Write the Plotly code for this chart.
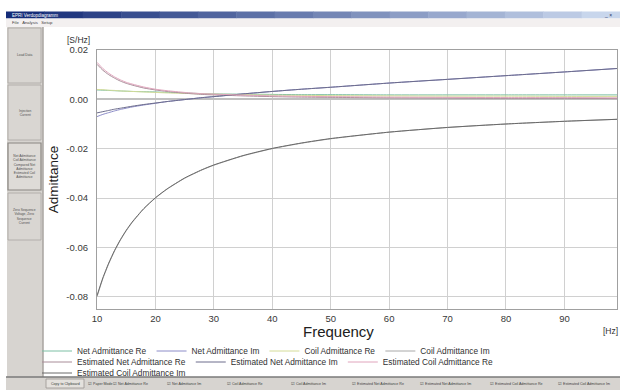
import plotly.graph_objects as go

# ---------------- data ----------------
freq = [10, 11, 12, 13, 14, 15, 16, 18, 20, 22, 25, 28, 30, 35, 40, 45, 50, 60, 70, 80, 90, 99]

net_re = [0.0038, 0.0037, 0.0036, 0.0035, 0.0034, 0.0033, 0.0032, 0.0031, 0.0030, 0.0028, 0.0026, 0.0023,
          0.0022, 0.0021, 0.0020, 0.0019, 0.0019, 0.0018, 0.0018, 0.0018, 0.0018, 0.0018]
net_im = [-0.0070, -0.0061, -0.0054, -0.0047, -0.0041, -0.0036, -0.0031, -0.0023, -0.0016, -0.0009, -0.0001, 0.0007,
          0.0011, 0.0022, 0.0032, 0.0041, 0.0049, 0.0066, 0.0081, 0.0096, 0.0111, 0.0125]
coil_re = [0.0040, 0.0039, 0.0037, 0.0036, 0.0034, 0.0033, 0.0032, 0.0030, 0.0028, 0.0026, 0.0024, 0.0022,
           0.0021, 0.0019, 0.0017, 0.0016, 0.0015, 0.0014, 0.0013, 0.0013, 0.0012, 0.0012]
coil_im = [-0.0800, -0.0727, -0.0667, -0.0615, -0.0571, -0.0533, -0.0500, -0.0444, -0.0400, -0.0364, -0.0320, -0.0286,
           -0.0267, -0.0229, -0.0200, -0.0178, -0.0160, -0.0133, -0.0114, -0.0100, -0.0089, -0.0081]
est_net_re = [0.0142, 0.0118, 0.0100, 0.0086, 0.0074, 0.0065, 0.0058, 0.0046, 0.0038, 0.0032, 0.0025, 0.0020,
              0.0018, 0.0014, 0.0011, 0.0009, 0.0008, 0.0006, 0.0005, 0.0004, 0.0004, 0.0003]
est_net_im = [-0.0055, -0.0050, -0.0045, -0.0040, -0.0036, -0.0032, -0.0028, -0.0021, -0.0015, -0.0009, -0.0001, 0.0007,
              0.0011, 0.0022, 0.0032, 0.0041, 0.0049, 0.0066, 0.0081, 0.0096, 0.0111, 0.0125]
est_coil_re = [0.0150, 0.0125, 0.0106, 0.0091, 0.0079, 0.0069, 0.0062, 0.0050, 0.0041, 0.0035, 0.0028, 0.0023,
               0.0021, 0.0017, 0.0014, 0.0012, 0.0011, 0.0009, 0.0008, 0.0007, 0.0007, 0.0006]
est_coil_im = [-0.0796, -0.0724, -0.0664, -0.0613, -0.0569, -0.0531, -0.0498, -0.0443, -0.0399, -0.0363, -0.0319, -0.0285,
               -0.0266, -0.0228, -0.0199, -0.0177, -0.0159, -0.0133, -0.0114, -0.0100, -0.0089, -0.0081]

series_names = ["Net Admittance Re", "Net Admittance Im", "Coil Admittance Re", "Coil Admittance Im",
                "Estimated Net Admittance Re", "Estimated Net Admittance Im",
                "Estimated Coil Admittance Re", "Estimated Coil Admittance Im"]
series_values = [net_re, net_im, coil_re, coil_im, est_net_re, est_net_im, est_coil_re, est_coil_im]
series_colors = ["#7cbfa4", "#8c8cc8", "#d4dc98", "#a8a8a8",
                 "#a88c98", "#6c6c8c", "#e0a4bc", "#6a6a6a"]
series_legend = ["legend", "legend", "legend", "legend", "legend2", "legend2", "legend2", "legend3"]

x_tickvals = [10, 20, 30, 40, 50, 60, 70, 80, 90]
x_ticktext = ["10", "20", "30", "40", "50", "60", "70", "80", "90"]
y_tickvals = [0.02, 0.0, -0.02, -0.04, -0.06, -0.08]
y_ticktext = ["0.02", "0.00", "-0.02", "-0.04", "-0.06", "-0.08"]

buttons = ["Load Data", "Injection<br>Current",
           "Net Admittance<br>Coil Admittance<br>Compared Net<br>Admittance<br>Estimated Coil<br>Admittance",
           "Zero Sequence<br>Voltage, Zero<br>Sequence<br>Current"]

# ---------------- figure ----------------
W, H = 620, 390
L, R, T, B = 97, 3, 50, 81
PW, PH = W - L - R, H - T - B


def X(px):
    return (px - L) / PW


def Y(py):
    return (H - B - py) / PH


FONT = "Liberation Sans, Arial, sans-serif"

fig = go.Figure()
for name, vals, col, leg in zip(series_names, series_values, series_colors, series_legend):
    fig.add_trace(go.Scatter(x=freq, y=vals, name=name, mode="lines",
                             line=dict(color=col, width=1, shape="spline", smoothing=0.6),
                             legend=leg))

shapes = []


def rect(x0, y0, x1, y1, fill, line=None, lw=0):
    shapes.append(dict(type="rect", xref="paper", yref="paper",
                       x0=X(x0), x1=X(x1), y0=Y(y1), y1=Y(y0),
                       fillcolor=fill, line=dict(color=line or fill, width=lw), layer="below"))


def hline(x0, x1, y, color, w=1):
    shapes.append(dict(type="line", xref="paper", yref="paper", x0=X(x0), x1=X(x1), y0=Y(y), y1=Y(y),
                       line=dict(color=color, width=w)))


def vline(x, y0, y1, color, w=1):
    shapes.append(dict(type="line", xref="paper", yref="paper", x0=X(x), x1=X(x), y0=Y(y0), y1=Y(y1),
                       line=dict(color=color, width=w)))


# title bar gradient
n = 16
c0, c1 = (20, 44, 120), (200, 214, 236)
for i in range(n):
    t = i / (n - 1)
    c = tuple(int(c0[k] + (c1[k] - c0[k]) * t) for k in range(3))
    xa = 6 + (620 - 6) * i / n
    xb = 6 + (620 - 6) * (i + 1) / n + 0.5
    rect(xa, 11.5, xb, 18.5, "rgb(%d,%d,%d)" % c)
# menu bar
rect(6, 18.5, 620, 27, "#f3f0f0")
# left panel
rect(7, 27, 43, 377, "#d7d4d0")
vline(43, 27, 377, "#a8a4a0", 1.5)
# buttons
btn_rows = [(28, 83), (85, 140), (143, 190), (193, 240)]
for i, (ya, yb) in enumerate(btn_rows):
    pressed = i == 2
    rect(8, ya, 41, yb, "#d9d6d2" if not pressed else "#dedbd7",
         "#8a8682" if pressed else "#aaa6a2", 1.2 if pressed else 0.8)
# bottom bar
rect(6, 377, 620, 390, "#d7d4d0")
hline(6, 620, 377, "#7a7a7a", 1.5)
rect(46, 379, 84, 388, "#e4e1dd", "#9a9692", 0.8)

annotations = []


def text(px, py, s, size, color="#333333", xanchor="center", align="center"):
    annotations.append(dict(xref="paper", yref="paper", x=X(px), y=Y(py), text=s, showarrow=False,
                            xanchor=xanchor, yanchor="middle", align=align,
                            font=dict(family=FONT, size=size, color=color)))


text(10, 15, "EPRI Verdopdiagramm", 4.5, "#ffffff", xanchor="left")
text(614, 15, "_ ×", 5, "#203060", xanchor="right")
text(10, 22.8, "File&nbsp;&nbsp;&nbsp;Analysis&nbsp;&nbsp;&nbsp;Setup", 4.2, "#404040", xanchor="left")
for (ya, yb), s in zip(btn_rows, buttons):
    text(24.5, (ya + yb) / 2, s, 3.3, "#505050")
text(65, 383.5, "Copy to Clipboard", 3.6, "#404040")
check_x = [86, 111, 165, 225, 289, 350, 418, 488, 556]
check_lbl = ["Paper Mode"] + series_names
for cx, s in zip(check_x, check_lbl):
    text(cx, 383.5, "☑ " + s, 3.6, "#404040", xanchor="left")

# axis labels
text(78, 40, "[S/Hz]", 8.5, "#303030")
text(338, 331, "Frequency", 15, "#202020")
text(610, 331, "[Hz]", 8.5, "#303030")

legend_common = dict(orientation="h", xref="container", yref="container", xanchor="left", yanchor="middle",
                     bgcolor="rgba(0,0,0,0)", font=dict(family=FONT, size=8.3, color="#303030"),
                     itemwidth=30, tracegroupgap=0, traceorder="normal")
lx = 37 / W

fig.update_layout(
    width=W, height=H,
    margin=dict(l=L, r=R, t=T, b=B, pad=0),
    paper_bgcolor="white", plot_bgcolor="white",
    font=dict(family=FONT, color="#333333"),
    shapes=shapes, annotations=annotations,
    showlegend=True,
    legend=dict(legend_common, x=lx, y=1 - 351 / H),
    legend2=dict(legend_common, x=lx, y=1 - 362 / H),
    legend3=dict(legend_common, x=lx, y=1 - 373 / H),
    xaxis=dict(range=[10, 99], tickvals=x_tickvals, ticktext=x_ticktext, showgrid=True, gridcolor="#d0d0d0",
               gridwidth=1, showline=True, linecolor="#a0a0a0", linewidth=1.2, mirror=True, zeroline=False,
               ticks="", tickfont=dict(family=FONT, size=9.5, color="#383838")),
    yaxis=dict(range=[-0.085, 0.02], tickvals=y_tickvals, ticktext=y_ticktext, showgrid=True,
               gridcolor="#d0d0d0", gridwidth=1, showline=True, linecolor="#a0a0a0", linewidth=1.2,
               mirror=True, zeroline=True, zerolinecolor="#c0c0c0", zerolinewidth=2,
               ticks="", ticklabelstandoff=6, tickfont=dict(family=FONT, size=9.5, color="#383838"),
               title=dict(text="Admittance", standoff=4, font=dict(family=FONT, size=13.5, color="#202020"))),
)

fig.write_html("out.html", config={"displayModeBar": False},
               post_script="document.body.style.margin='0px';")
